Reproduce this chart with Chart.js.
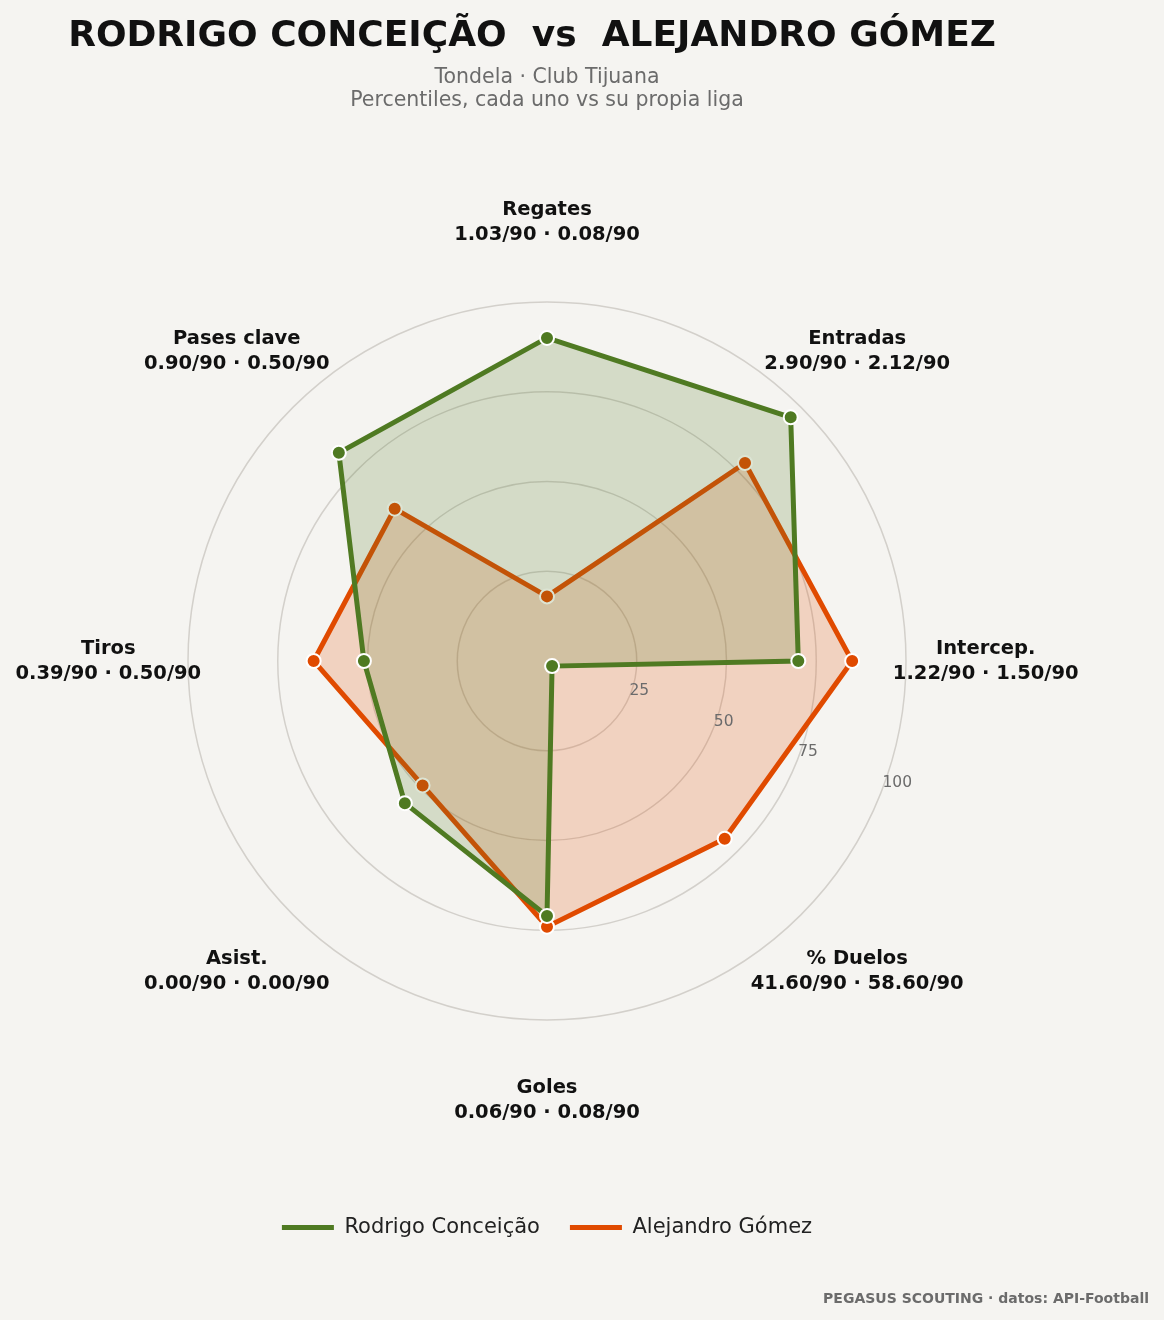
<!DOCTYPE html>
<html>
<head>
<meta charset="utf-8">
<script src="https://cdn.jsdelivr.net/npm/chart.js@4/dist/chart.umd.min.js"></script>
<style>
  body { margin: 0; background: #f5f4f1; font-family: "DejaVu Sans", sans-serif; }
  #wrap { position: relative; width: 1164px; height: 1320px; }
  canvas { position: absolute; left: 0; top: 0; }
  .title { position: absolute; top: 13px; left: 0; width: 1064px; text-align: center; font-size: 36px; font-weight: bold; color: #111; }
  .sub { position: absolute; top: 65px; left: 0; width: 1094px; text-align: center; font-size: 20.5px; color: #6b6b6b; line-height: 23px; }
  .foot { position: absolute; bottom: 14px; right: 15px; font-size: 14px; font-weight: bold; color: #6b6b6b; }
</style>
</head>
<body>
<div id="wrap">
  <canvas id="radar" width="1164" height="1320"></canvas>
  <div class="title">RODRIGO CONCEIÇÃO&nbsp; vs&nbsp; ALEJANDRO GÓMEZ</div>
  <div class="sub">Tondela · Club Tijuana<br>Percentiles, cada uno vs su propia liga</div>
  <div class="foot">PEGASUS SCOUTING · datos: API-Football</div>
</div>
<script>
const categories = ["Regates", "Entradas", "Intercep.", "% Duelos", "Goles", "Asist.", "Tiros", "Pases clave"];
const rawValues = ["1.03/90 · 0.08/90", "2.90/90 · 2.12/90", "1.22/90 · 1.50/90", "41.60/90 · 58.60/90",
                   "0.06/90 · 0.08/90", "0.00/90 · 0.00/90", "0.39/90 · 0.50/90", "0.90/90 · 0.50/90"];
const rodrigo = [90, 96, 70, 2, 71, 56, 51, 82];
const alejandro = [18, 78, 85, 70, 74, 49, 65, 60];
const tickValues = [25, 50, 75, 100];

const GREEN = "#4f7a22";
const ORANGE = "#e04a00";

const labelsPlugin = {
  id: "radarText",
  afterDraw(chart) {
    const s = chart.scales.r;
    const ctx = chart.ctx;
    ctx.save();
    ctx.textAlign = "center";
    ctx.textBaseline = "middle";
    ctx.fillStyle = "#111";
    ctx.font = "bold 19.5px 'DejaVu Sans'";
    categories.forEach((c, i) => {
      const p = s.getPointPosition(i, s.drawingArea * 1.222);
      ctx.fillText(c, p.x, p.y - 12);
      ctx.fillText(rawValues[i], p.x, p.y + 13);
    });
    ctx.fillStyle = "#6b6b6b";
    ctx.font = "15.5px 'DejaVu Sans'";
    ctx.textAlign = "left";
    const ang = 20 * Math.PI / 180;
    tickValues.forEach(v => {
      const d = s.getDistanceFromCenterForValue(v) - 2;
      ctx.fillText(String(v), s.xCenter + d * Math.cos(ang), s.yCenter + d * Math.sin(ang));
    });
    ctx.restore();
  }
};

new Chart(document.getElementById("radar"), {
  type: "radar",
  data: {
    labels: categories,
    datasets: [
      { label: "Rodrigo Conceição", data: rodrigo, borderColor: GREEN, backgroundColor: "rgba(79,122,34,0.2)",
        borderWidth: 5, pointBackgroundColor: GREEN, pointBorderColor: "#fff", pointBorderWidth: 2, pointRadius: 7 },
      { label: "Alejandro Gómez", data: alejandro, borderColor: ORANGE, backgroundColor: "rgba(224,74,0,0.2)",
        borderWidth: 5, pointBackgroundColor: ORANGE, pointBorderColor: "#fff", pointBorderWidth: 2, pointRadius: 7 }
    ]
  },
  options: {
    responsive: false,
    animation: false,
    layout: { padding: { top: 135, left: 188, right: 258, bottom: 72 } },
    scales: {
      r: {
        min: 0, max: 100,
        ticks: { display: false, stepSize: 25 },
        grid: { color: "#d3d0cb", lineWidth: 1.5, circular: true },
        angleLines: { display: false },
        pointLabels: { display: false }
      }
    },
    plugins: {
      legend: {
        position: "bottom",
        labels: { usePointStyle: true, pointStyle: "line", pointStyleWidth: 52, boxHeight: 5,
          font: { size: 21, family: "DejaVu Sans" }, color: "#222", padding: 30,
          generateLabels: chart => chart.data.datasets.map((d, i) => ({
            text: d.label, strokeStyle: d.borderColor, fillStyle: d.borderColor, lineWidth: 5,
            pointStyle: "line", datasetIndex: i, fontColor: "#222"
          }))
        }
      },
      tooltip: { enabled: false }
    }
  },
  plugins: [labelsPlugin]
});
</script>
</body>
</html>
